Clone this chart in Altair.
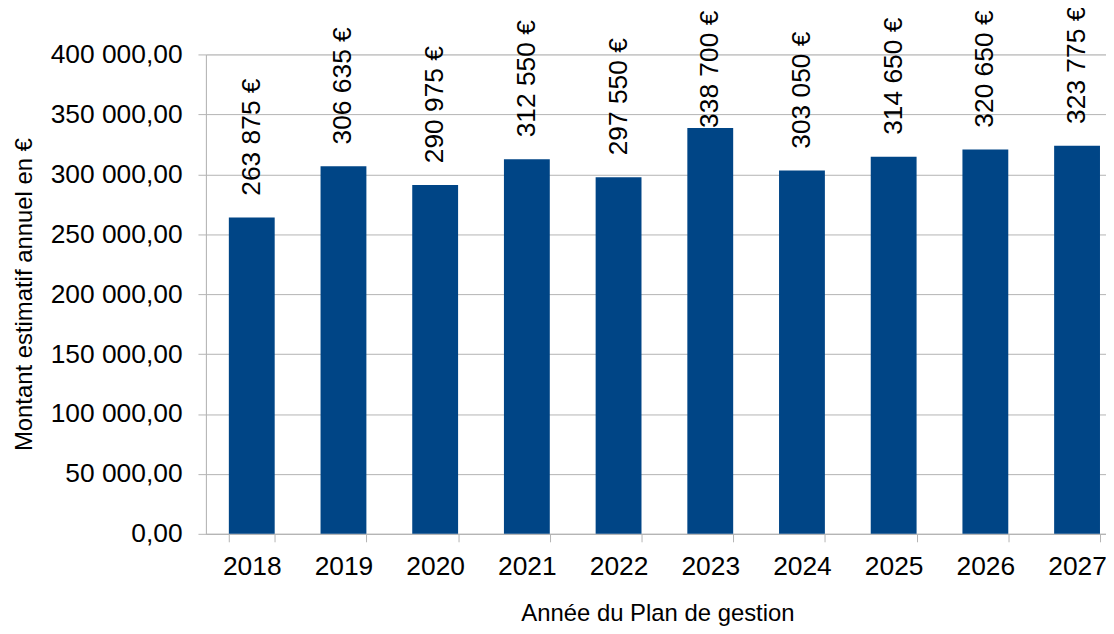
import altair as alt
import pandas as pd

annees = ["2018", "2019", "2020", "2021", "2022", "2023", "2024", "2025", "2026", "2027"]
montants = [263875, 306635, 290975, 312550, 297550, 338700, 303050, 314650, 320650, 323775]
y_ticks = [0, 50000, 100000, 150000, 200000, 250000, 300000, 350000, 400000]

df = pd.DataFrame({"annee": annees, "montant": montants})

FONT = "Liberation Sans"
BLUE = "#004586"
GREY = "#b3b3b3"
FS = 26.5

x = alt.X(
    "annee:N",
    sort=annees,
    scale=alt.Scale(range=[0, 922], paddingInner=0.5, paddingOuter=0.25),
    axis=alt.Axis(
        title="Année du Plan de gestion",
        labelAngle=0,
        labelFontSize=FS,
        labelFont=FONT,
        labelColor="#000000",
        labelPadding=12,
        tickBand="extent",
        tickSize=8,
        tickColor=GREY,
        domainColor=GREY,
        titleFontSize=24,
        titleFont=FONT,
        titleFontWeight="normal",
        titleColor="#000000",
        titleX=454,
        titleY=87,
        titleBaseline="alphabetic",
        titleAlign="center",
        grid=False,
    ),
)

y = alt.Y(
    "montant:Q",
    scale=alt.Scale(domain=[0, 400000], nice=False),
    axis=alt.Axis(
        title="Montant estimatif annuel en €",
        values=y_ticks,
        labelExpr="replace(replace(format(datum.value, ',.2f'), ',', ' '), '.', ',')",
        labelFontSize=FS,
        labelFont=FONT,
        labelColor="#000000",
        labelPadding=16,
        tickSize=8,
        tickColor=GREY,
        domainColor=GREY,
        gridColor=GREY,
        titleFontSize=24,
        titleFont=FONT,
        titleFontWeight="normal",
        titleColor="#000000",
        titleAngle=270,
        titleX=-182,
        titleY=241,
        titleAlign="center",
        titleBaseline="middle",
    ),
)

base = alt.Chart(df).transform_calculate(
    label="replace(format(datum.montant, ','), ',', ' ') + ' €'"
)

bars = base.mark_bar(color=BLUE, clip=False).encode(x=x, y=y)

labels = base.transform_filter("datum.annee != '2023'").mark_text(
    angle=270, align="left", baseline="middle", dx=22, fontSize=FS, font=FONT, color="#000000"
).encode(x=alt.X("annee:N", sort=annees), y="montant:Q", text="label:N")

labels_top = base.transform_filter("datum.annee == '2023'").mark_text(
    angle=270, align="left", baseline="middle", dx=0, fontSize=FS, font=FONT, color="#000000"
).encode(x=alt.X("annee:N", sort=annees), y="montant:Q", text="label:N")

chart = alt.layer(bars, labels, labels_top).properties(
    width=905,
    height=482,
    autosize=alt.AutoSizeParams(type="none"),
    padding={"left": 199, "top": 45, "right": 0, "bottom": 91},
).configure_view(stroke=None).configure(background="#ffffff")

chart.save("out.html", embed_options={"renderer": "svg", "actions": False})
